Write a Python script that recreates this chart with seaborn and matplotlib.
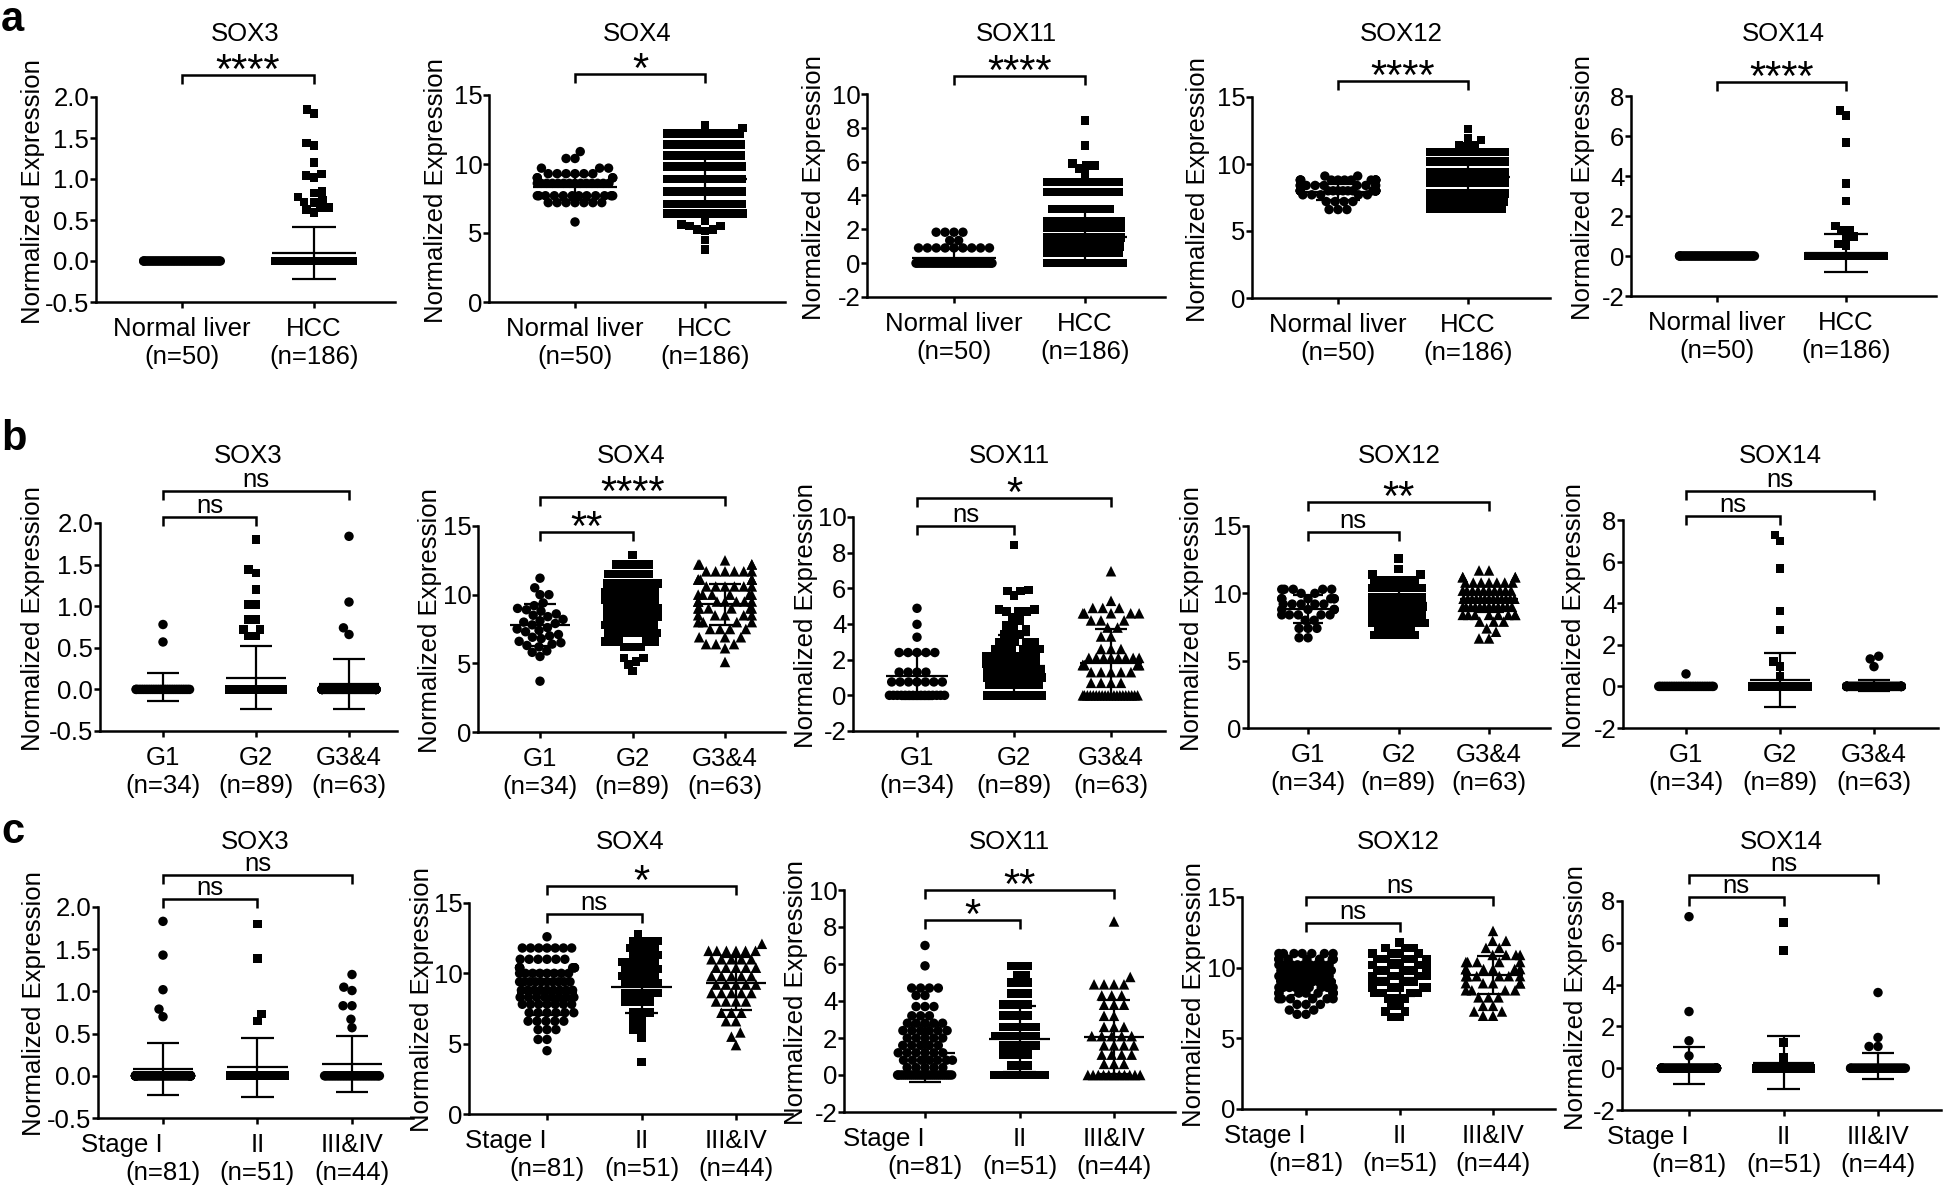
import warnings
warnings.filterwarnings("ignore")
import numpy as np
import matplotlib
matplotlib.use("Agg")
import matplotlib.pyplot as plt
from matplotlib import transforms
from matplotlib.ticker import FormatStrFormatter
import seaborn as sns

# ------------------------------------------------------------------ data
genes = ["SOX3", "SOX4", "SOX11", "SOX12", "SOX14"]

a_cats = ["Normal liver", "HCC"]
a_n = ["(n=50)", "(n=186)"]
b_cats = ["G1", "G2", "G3&4"]
b_n = ["(n=34)", "(n=89)", "(n=63)"]
c_cats = ["Stage I", "II", "III&IV"]
c_n = ["(n=81)", "(n=51)", "(n=44)"]

# values as (value, number of samples at that level)
# ---- row a : Normal liver vs HCC
a_sox3_normal = [(0.0, 50)]
a_sox3_hcc = [(1.85, 1), (1.80, 1), (1.44, 1), (1.41, 1), (1.20, 1), (1.06, 1), (1.04, 1),
              (1.02, 1), (0.85, 1), (0.83, 1), (0.78, 1), (0.74, 1), (0.72, 1), (0.71, 1),
              (0.65, 2), (0.63, 1), (0.59, 1), (0.0, 168)]
a_sox4_normal = [(10.9, 1), (10.4, 2), (9.7, 3), (9.3, 6), (9.0, 4), (8.6, 14), (7.7, 12),
                 (7.2, 7), (5.8, 1)]
a_sox4_hcc = [(12.8, 1), (12.6, 1), (12.2, 16), (11.4, 20), (10.6, 22), (9.8, 24), (8.9, 24),
              (8.0, 24), (7.1, 24), (6.4, 21), (5.9, 1), (5.6, 1), (5.5, 2), (5.25, 2),
              (5.15, 1), (4.5, 1), (3.8, 1)]
a_sox11_normal = [(1.83, 4), (1.34, 2), (0.9, 9), (0.0, 35)]
a_sox11_hcc = [(8.44, 1), (6.96, 1), (5.9, 1), (5.77, 2), (5.6, 1), (5.3, 1), (4.8, 12),
               (4.2, 12), (3.2, 8), (2.5, 20), (2.1, 18), (1.5, 18), (1.0, 16), (0.6, 14),
               (0.0, 61)]
a_sox12_normal = [(9.1, 2), (8.8, 12), (8.4, 8), (8.0, 16), (7.7, 5), (7.2, 4), (6.6, 3)]
a_sox12_hcc = [(12.6, 1), (11.9, 1), (11.8, 1), (11.4, 2), (11.3, 1), (10.9, 24), (10.2, 30),
               (9.4, 32), (8.6, 32), (7.8, 28), (7.2, 20), (6.7, 14)]
a_sox14_normal = [(0.0, 50)]
a_sox14_hcc = [(7.29, 1), (7.02, 1), (5.69, 1), (3.64, 1), (2.75, 1), (1.5, 1), (1.3, 1),
               (1.26, 1), (0.97, 1), (0.93, 1), (0.6, 1), (0.5, 1), (0.0, 174)]

a_mean = [[0.0, 0.095], [8.3, 8.9], [0.33, 1.55], [7.9, 9.0], [0.0, 0.15]]
a_sd = [[0.0, 0.315], [0.93, 1.9], [0.5, 1.6], [0.6, 1.1], [0.0, 0.93]]
a_sig = ["****", "*", "****", "****", "****"]

# ---- row b : tumour grade
b_sox3_g1 = [(0.78, 1), (0.57, 1), (0.0, 32)]
b_sox3_g2 = [(1.80, 1), (1.44, 1), (1.40, 1), (1.20, 1), (1.02, 2), (0.84, 2), (0.72, 2),
             (0.64, 2), (0.0, 77)]
b_sox3_g34 = [(1.84, 1), (1.05, 1), (0.74, 1), (0.66, 1), (0.0, 59)]
b_sox4_g1 = [(11.2, 1), (10.5, 1), (10.0, 2), (9.4, 1), (9.2, 1), (9.0, 1), (8.9, 1), (8.8, 1),
             (8.6, 1), (8.5, 1), (8.4, 1), (8.2, 1), (8.1, 1), (8.0, 1), (7.9, 1), (7.8, 1),
             (7.6, 1), (7.5, 1), (7.4, 1), (7.3, 1), (7.1, 1), (7.0, 1), (6.9, 1), (6.8, 1),
             (6.6, 1), (6.5, 1), (6.4, 1), (6.3, 1), (6.2, 1), (5.9, 1), (5.8, 1), (5.5, 1),
             (3.7, 1)]
b_sox4_g2 = [(12.9, 1), (12.2, 5), (11.5, 6), (10.8, 9), (10.2, 10), (9.6, 10), (9.0, 11),
             (8.4, 9), (7.8, 8), (7.2, 7), (6.6, 5), (6.2, 3), (5.4, 2), (5.15, 1), (4.93, 1),
             (4.44, 1)]
b_sox4_g34 = [(12.5, 1), (12.2, 4), (11.7, 6), (11.1, 6), (10.6, 6), (10.0, 6), (9.5, 7),
              (9.0, 6), (8.5, 5), (8.0, 4), (7.5, 4), (6.9, 3), (6.4, 3), (6.1, 1), (5.1, 1)]
b_sox11_g1 = [(4.88, 1), (3.98, 1), (3.26, 1), (2.4, 5), (1.3, 4), (0.75, 7), (0.0, 15)]
b_sox11_g2 = [(8.42, 1), (5.9, 1), (5.85, 2), (5.6, 1), (4.8, 2), (4.7, 3), (4.4, 1), (4.2, 1),
              (3.9, 2), (3.7, 1), (3.4, 3), (3.0, 5), (2.6, 6), (2.2, 8), (1.8, 8), (1.4, 9),
              (1.0, 8), (0.6, 7), (0.0, 20)]
b_sox11_g34 = [(6.96, 1), (5.3, 1), (4.9, 3), (4.6, 5), (4.2, 3), (3.8, 2), (3.3, 2), (2.6, 3),
               (2.1, 8), (1.7, 6), (1.3, 5), (0.7, 4), (0.0, 20)]
b_sox12_g1 = [(10.3, 5), (10.0, 2), (9.6, 6), (9.2, 5), (8.8, 4), (8.4, 5), (8.0, 2), (7.4, 3),
              (6.7, 2)]
b_sox12_g2 = [(12.6, 1), (11.8, 1), (11.4, 2), (11.0, 6), (10.4, 12), (9.7, 14), (9.0, 16),
              (8.4, 14), (7.8, 12), (7.4, 5), (6.9, 6)]
b_sox12_g34 = [(11.7, 2), (11.2, 4), (10.8, 7), (10.2, 10), (9.6, 13), (9.0, 12), (8.4, 8),
               (7.9, 3), (7.4, 1), (7.15, 1), (6.65, 2)]
b_sox14_g1 = [(0.6, 1), (0.0, 33)]
b_sox14_g2 = [(7.28, 1), (6.99, 1), (5.67, 1), (3.62, 1), (2.72, 1), (1.21, 1), (0.97, 1),
              (0.48, 1), (0.0, 81)]
b_sox14_g34 = [(1.45, 1), (1.32, 1), (0.95, 1), (0.0, 60)]

b_mean = [[0.03, 0.14, 0.064], [7.8, 8.9, 9.3], [1.06, 1.62, 1.8], [8.83, 9.25, 9.58],
          [0.02, 0.32, 0.05]]
b_sd = [[0.17, 0.38, 0.30], [1.52, 1.7, 1.5], [1.27, 1.77, 1.9], [1.05, 1.2, 1.0],
        [0.1, 1.3, 0.28]]
b_sig_lo = ["ns", "**", "ns", "ns", "ns"]
b_sig_hi = ["ns", "****", "*", "**", "ns"]

# ---- row c : tumour stage
c_sox3_s1 = [(1.83, 1), (1.43, 1), (1.02, 1), (0.79, 1), (0.70, 1), (0.0, 76)]
c_sox3_s2 = [(1.80, 1), (1.39, 1), (0.73, 1), (0.65, 1), (0.0, 47)]
c_sox3_s34 = [(1.2, 1), (1.05, 1), (1.01, 1), (0.83, 2), (0.67, 1), (0.57, 1), (0.0, 37)]
c_sox4_s1 = [(12.6, 1), (11.8, 7), (11.0, 6), (10.4, 8), (10.0, 8), (9.4, 10), (8.8, 9),
             (8.3, 8), (7.8, 7), (7.2, 6), (6.6, 5), (6.0, 3), (5.3, 2), (4.5, 1)]
c_sox4_s2 = [(12.8, 1), (12.3, 4), (11.8, 4), (11.3, 4), (10.8, 5), (10.3, 5), (9.8, 5),
             (9.3, 5), (8.6, 5), (8.0, 4), (7.2, 3), (6.6, 2), (6.0, 2), (5.4, 1), (3.7, 1)]
c_sox4_s34 = [(12.1, 1), (11.6, 6), (11.0, 5), (10.4, 5), (9.8, 5), (9.2, 5), (8.6, 5),
              (8.0, 4), (7.2, 3), (6.6, 2), (5.8, 1), (5.5, 1), (4.9, 1)]
c_sox11_s1 = [(7.0, 1), (5.9, 1), (4.7, 4), (4.3, 2), (3.7, 3), (3.2, 3), (2.8, 5), (2.4, 6),
              (2.0, 5), (1.6, 5), (1.2, 6), (0.8, 7), (0.4, 5), (0.0, 28)]
c_sox11_s2 = [(5.9, 3), (5.4, 2), (5.0, 3), (4.4, 3), (3.8, 4), (3.2, 4), (2.6, 5), (2.1, 6),
              (1.6, 5), (1.1, 4), (0.5, 3), (0.0, 9)]
c_sox11_s34 = [(8.3, 1), (5.3, 1), (4.9, 4), (4.3, 3), (3.8, 3), (3.2, 2), (2.6, 3), (2.1, 5),
               (1.6, 4), (1.1, 4), (0.6, 3), (0.0, 11)]
c_sox12_s1 = [(11.0, 7), (10.6, 8), (10.2, 9), (9.8, 9), (9.4, 9), (9.0, 9), (8.6, 9), (8.2, 8),
              (7.8, 6), (7.4, 3), (7.0, 2), (6.7, 2)]
c_sox12_s2 = [(11.8, 1), (11.4, 3), (11.0, 4), (10.6, 5), (10.2, 5), (9.8, 5), (9.4, 5),
              (9.0, 5), (8.6, 5), (8.2, 4), (7.8, 3), (7.3, 2), (6.9, 2), (6.5, 2)]
c_sox12_s34 = [(12.6, 1), (11.9, 2), (11.4, 2), (10.9, 4), (10.4, 5), (9.9, 6), (9.4, 6),
               (8.9, 5), (8.4, 4), (7.9, 3), (7.3, 2), (6.9, 2), (6.6, 2)]
c_sox14_s1 = [(7.25, 1), (2.71, 1), (1.31, 1), (0.59, 1), (0.0, 77)]
c_sox14_s2 = [(6.96, 1), (5.64, 1), (1.23, 1), (0.51, 1), (0.0, 47)]
c_sox14_s34 = [(3.62, 1), (1.47, 1), (1.04, 2), (0.0, 40)]

c_mean = [[0.08, 0.10, 0.14], [8.6, 9.05, 9.29], [1.17, 1.95, 2.04], [9.08, 9.27, 9.5],
          [0.14, 0.27, 0.12]]
c_sd = [[0.31, 0.35, 0.33], [1.55, 1.9, 1.9], [1.55, 1.8, 2.0], [1.0, 1.3, 1.35],
        [0.89, 1.25, 0.62]]
c_sig_lo = ["ns", "ns", "*", "ns", "ns"]
c_sig_hi = ["ns", "*", "**", "ns", "ns"]

yticks_by_gene = {
    "SOX3": [-0.5, 0.0, 0.5, 1.0, 1.5, 2.0],
    "SOX4": [0, 5, 10, 15],
    "SOX11": [-2, 0, 2, 4, 6, 8, 10],
    "SOX12": [0, 5, 10, 15],
    "SOX14": [-2, 0, 2, 4, 6, 8],
}

# ------------------------------------------------------------------ style / layout
sns.set_theme(style="ticks")
plt.rcParams["font.family"] = ["Liberation Sans", "DejaVu Sans"]
plt.rcParams["axes.unicode_minus"] = False

W, H, DPI = 1946, 1188, 100
FS = 18.5
SW = 0.58               # swarm width as fraction of group spacing
G = 0.8 / SW            # spacing of groups in data units (seaborn swarm width is 0.8)
MS = {"o": 6.8, "s": 6.2, "^": 7.6}
LW = 1.8

fig = plt.figure(figsize=(W / DPI, H / DPI), dpi=DPI)
fig.patch.set_facecolor("white")

# (left, top, right, bottom, first tick, last tick) in pixels
boxes_a = [(96, 97, 395, 302, 182, 314), (489, 95, 785, 302, 575, 705),
           (867, 94, 1165, 297, 954, 1085), (1252, 97, 1550, 298, 1338, 1468),
           (1631, 96, 1936, 296, 1717, 1846)]
boxes_b = [(100, 523, 397, 731, 163, 349), (478, 526, 785, 732, 540, 725),
           (853, 517, 1165, 731, 917, 1111), (1248, 526, 1550, 728, 1308, 1489),
           (1623, 520, 1938, 728, 1686, 1874)]
boxes_c = [(98, 907, 413, 1118, 163, 352), (469, 903, 792, 1114, 547, 736),
           (844, 890, 1175, 1112, 925, 1114), (1242, 897, 1555, 1109, 1306, 1493),
           (1622, 901, 1941, 1110, 1689, 1878)]
ylab_a = [63, 53, 53, 54, 48]
ylab_b = [67, 48, 47, 56, 49]
ylab_c = [64, 47, 48, 48, 46]
brk_a = [1.107, 1.10, 1.09, 1.08, 1.07]
brk_b = [(1.03, 1.154), (0.97, 1.14), (0.96, 1.09), (0.97, 1.12), (1.02, 1.14)]
brk_c = [(1.04, 1.15), (0.95, 1.08), (0.865, 1.0), (0.877, 1.0), (1.02, 1.124)]
title_base = [41, 463, 849]

swarms = []   # (collection, display marker size)


def expand(pairs):
    vals, reps = [], []
    for v, c in pairs:
        vals.extend([v] * c)
        reps.extend([c] * c)
    return np.array(vals, dtype=float), np.array(reps, dtype=float)


def bracket(ax, x0, x1, yfrac, label, hpx):
    trans = transforms.blended_transform_factory(ax.transData, ax.transAxes)
    leg = 9.0 / hpx
    ax.plot([x0, x0, x1, x1], [yfrac - leg, yfrac, yfrac, yfrac - leg], color="black",
            lw=LW, transform=trans, clip_on=False, solid_joinstyle="miter",
            solid_capstyle="butt")
    star = label.startswith("*")
    ax.annotate(label, xy=((x0 + x1) / 2, yfrac), xycoords=trans,
                xytext=(0, -8 if star else 4), textcoords="offset pixels",
                ha="center", va="baseline", fontsize=30 if star else FS, color="black")


def panel(box, gene, groups, markers, means, sds, names, ns, ylab_off, brks, sigs,
          title_y, stage_row=False):
    left, top, right, bottom, t0, t1 = box
    ax = fig.add_axes([left / W, 1 - bottom / H, (right - left) / W, (bottom - top) / H])
    k = len(groups)
    s = (t1 - t0) / (k - 1)
    pos = [i * G for i in range(k)]
    yt = yticks_by_gene[gene]
    ax.set_xlim((left - t0) / s * G, (right - t0) / s * G)
    ax.set_ylim(yt[0], yt[-1])
    width_pt = SW * s * 72.0 / DPI
    for p, grp, m in zip(pos, groups, markers):
        vals, reps = expand(grp)
        sns.swarmplot(x=np.full(len(vals), p), y=vals, native_scale=True, orient="x",
                      color="black", marker=m, size=MS[m], linewidth=0, ax=ax,
                      warn_thresh=1.0, zorder=2)
        coll = ax.collections[-1]
        # Prism-like packing: a level with many samples is squeezed to fill the width
        fac = np.clip(width_pt / (reps * MS[m]), 0.12, 0.9)
        coll.set_sizes((MS[m] * fac) ** 2)
        swarms.append((coll, MS[m]))
    for p, mu, sd in zip(pos, means, sds):
        ax.hlines(mu, p - 0.32 * G, p + 0.32 * G, color="black", lw=1.6, zorder=3)
        if sd > 0:
            ax.vlines(p, mu - sd, mu + sd, color="black", lw=1.6, zorder=3)
            ax.hlines([mu - sd, mu + sd], p - 0.17 * G, p + 0.17 * G, color="black",
                      lw=1.6, zorder=3)
    ax.set_xlim((left - t0) / s * G, (right - t0) / s * G)
    ax.set_ylim(yt[0], yt[-1])
    ax.set_yticks(yt)
    ax.yaxis.set_major_formatter(FormatStrFormatter("%.1f" if gene == "SOX3" else "%g"))
    ax.set_xticks(pos)
    ax.set_xticklabels(names)
    ax.set_xlabel("")
    ax.set_facecolor("white")
    for sp in ["top", "right"]:
        ax.spines[sp].set_visible(False)
    for sp in ["left", "bottom"]:
        ax.spines[sp].set_linewidth(LW)
        ax.spines[sp].set_color("black")
    ax.tick_params(axis="both", direction="out", length=4.3, width=LW, color="black",
                   labelsize=FS, labelcolor="black")
    ax.tick_params(axis="y", pad=0.5)
    ax.tick_params(axis="x", pad=20.2)
    for lbl in ax.get_xticklabels():
        lbl.set_verticalalignment("baseline")
    for lbl in ax.get_yticklabels():
        lbl.set_verticalalignment("center_baseline")
    if stage_row:
        ax.get_xticklabels()[0].set_horizontalalignment("right")
    tr = transforms.blended_transform_factory(ax.transData, ax.transAxes)
    for p, nlab in zip(pos, ns):
        ax.annotate(nlab, xy=(p, 0), xycoords=tr, xytext=(0, -62), textcoords="offset pixels",
                    ha="center", va="baseline", fontsize=FS, color="black",
                    annotation_clip=False)
    ax.set_ylabel("Normalized Expression", fontsize=FS, color="black")
    ax.yaxis.label.set_verticalalignment("center")
    ax.yaxis.set_label_coords(-ylab_off / (right - left), 0.54)
    fig.text((left + right) / 2 / W, 1 - title_y / H, gene, ha="center", va="baseline",
             fontsize=FS, color="black")
    hpx = bottom - top
    if k == 2:
        bracket(ax, pos[0], pos[1], brks, sigs, hpx)
    else:
        bracket(ax, pos[0], pos[1], brks[0], sigs[0], hpx)
        bracket(ax, pos[0], pos[2], brks[1], sigs[1], hpx)
    return ax


# ---- row a
groups_a = [[a_sox3_normal, a_sox3_hcc], [a_sox4_normal, a_sox4_hcc],
            [a_sox11_normal, a_sox11_hcc], [a_sox12_normal, a_sox12_hcc],
            [a_sox14_normal, a_sox14_hcc]]
for i, g in enumerate(genes):
    panel(boxes_a[i], g, groups_a[i], ["o", "s"], a_mean[i], a_sd[i], a_cats, a_n,
          ylab_a[i], brk_a[i], a_sig[i], title_base[0])

# ---- row b
groups_b = [[b_sox3_g1, b_sox3_g2, b_sox3_g34], [b_sox4_g1, b_sox4_g2, b_sox4_g34],
            [b_sox11_g1, b_sox11_g2, b_sox11_g34], [b_sox12_g1, b_sox12_g2, b_sox12_g34],
            [b_sox14_g1, b_sox14_g2, b_sox14_g34]]
markers_b = [["o", "s", "o"], ["o", "s", "^"], ["o", "s", "^"], ["o", "s", "^"], ["o", "s", "o"]]
for i, g in enumerate(genes):
    panel(boxes_b[i], g, groups_b[i], markers_b[i], b_mean[i], b_sd[i], b_cats, b_n,
          ylab_b[i], brk_b[i], (b_sig_lo[i], b_sig_hi[i]), title_base[1])

# ---- row c
groups_c = [[c_sox3_s1, c_sox3_s2, c_sox3_s34], [c_sox4_s1, c_sox4_s2, c_sox4_s34],
            [c_sox11_s1, c_sox11_s2, c_sox11_s34], [c_sox12_s1, c_sox12_s2, c_sox12_s34],
            [c_sox14_s1, c_sox14_s2, c_sox14_s34]]
markers_c = [["o", "s", "o"], ["o", "s", "^"], ["o", "s", "^"], ["o", "s", "^"], ["o", "s", "o"]]
for i, g in enumerate(genes):
    panel(boxes_c[i], g, groups_c[i], markers_c[i], c_mean[i], c_sd[i], c_cats, c_n,
          ylab_c[i], brk_c[i], (c_sig_lo[i], c_sig_hi[i]), title_base[2], stage_row=True)

# panel letters
for letter, base in zip(["a", "b", "c"], [31, 450, 843]):
    fig.text(1 / W, 1 - base / H, letter, ha="left", va="baseline", fontsize=30,
             fontweight="bold", color="black")

# lay the swarms out with the squeezed spacing, then freeze them and draw the
# markers at full size so crowded levels merge into solid bands (as in Prism)
fig.canvas.draw()
for coll, size in swarms:
    if "draw" in coll.__dict__:
        del coll.__dict__["draw"]
    coll.set_sizes(np.full(len(coll.get_offsets()), size ** 2))

fig.savefig("out.png", dpi=DPI, facecolor="white")
